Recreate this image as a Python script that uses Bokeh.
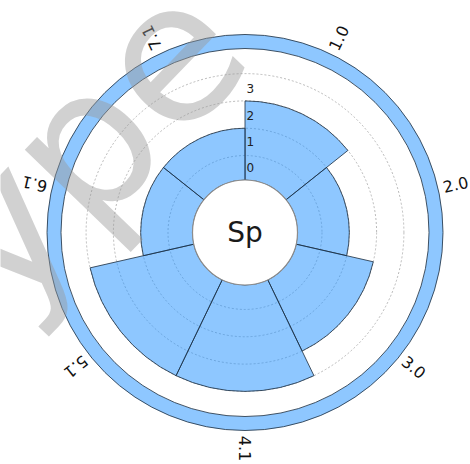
import numpy as np
from bokeh.plotting import figure
from bokeh.models import ColumnDataSource
from bokeh.core.properties import value
from bokeh.embed import file_html
from bokeh.resources import INLINE

# Chart data
categories = ["1.0", "2.0", "3.0", "4.1", "5.1", "6.1", "7.1"]
values = [2, 1, 2, 3, 3, 1, 1]
radial_ticks = [0, 1, 2, 3]
center_label = "Sp"
watermark = "ype"

# Layout (1 data unit = 1 pixel)
W, H = 470, 464
CX, CY = 244.5, 232.0
HOLE_R = 52.5
R_ZERO = 77.0
STEP = 27.3
RING_IN, RING_OUT = 184.0, 198.0
LABEL_R = 216.0
FONT = value("DejaVu Sans")
BAR_FILL = "#1E90FF"
EDGE = "#1c2c3c"


def radius(v):
    return R_ZERO + STEP * np.asarray(v, dtype=float)


n = len(categories)
span = 2 * np.pi / n
idx = np.arange(n)
end = np.pi / 2 - idx * span
start = end - span
mid = (start + end) / 2

p = figure(width=W, height=H, output_backend="svg", toolbar_location=None,
           x_range=(-CX, W - CX), y_range=(-(H - CY), CY),
           min_border=0, outline_line_color=None)
p.axis.visible = False
p.grid.visible = False
p.background_fill_color = "white"

# dotted radial grid
p.circle(x=np.zeros(len(radial_ticks)), y=np.zeros(len(radial_ticks)),
         radius=radius(radial_ticks), fill_color=None,
         line_color="#a8a8a8", line_dash="2 2", line_width=0.8)

# bars
bars = ColumnDataSource(dict(start=start, end=end, outer=radius(values)))
p.annular_wedge(x=0, y=0, inner_radius=HOLE_R, outer_radius="outer",
                start_angle="start", end_angle="end", source=bars,
                fill_color=BAR_FILL, fill_alpha=0.5,
                line_color=EDGE, line_width=0.8)

# outer ring
p.annulus(x=0, y=0, inner_radius=RING_IN, outer_radius=RING_OUT,
          fill_color=BAR_FILL, fill_alpha=0.5, line_color=EDGE, line_width=0.8)

# centre hole
p.circle(x=0, y=0, radius=HOLE_R, fill_color="white",
         line_color="#8c8c8c", line_width=1.2)

# radial tick labels
tick_r = radius(radial_ticks) * 0.96 - 9
p.text(x=np.full(len(radial_ticks), 1.5), y=tick_r,
       text=[str(t) for t in radial_ticks], text_align="left",
       text_baseline="middle", text_font=FONT, text_font_size="12px",
       text_color="#222222")

# category labels, rotated radially
p.text(x=LABEL_R * np.cos(mid), y=LABEL_R * np.sin(mid), text=categories,
       angle=mid, text_align="center", text_baseline="middle",
       text_font=FONT, text_font_size="16px", text_color="#111111")

# centre label
p.text(x=[0], y=[0], text=[center_label], text_align="center",
       text_baseline="middle", text_font=FONT, text_font_size="28px",
       text_color="#1a1a1a")

# watermark
p.text(x=[-284.5], y=[-40], text=[watermark], angle=np.deg2rad(46),
       text_align="left", text_baseline="alphabetic", text_font=FONT,
       text_font_size="195px", text_color="#999999", text_alpha=0.45)

open("out.html", "w").write(file_html(p, INLINE))
